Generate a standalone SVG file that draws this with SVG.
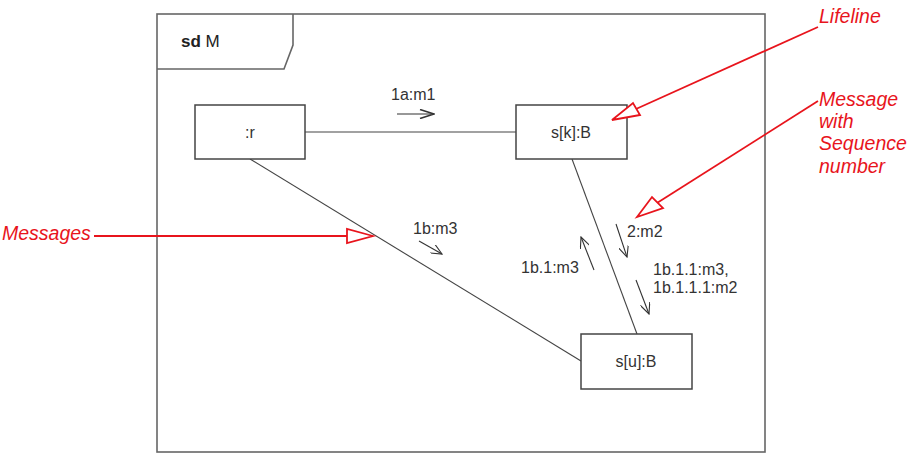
<svg xmlns="http://www.w3.org/2000/svg" width="918" height="461" viewBox="0 0 918 461">
<style>
  .frame{fill:none;stroke:#666;stroke-width:1.6}
  .node{fill:#fff;stroke:#444;stroke-width:1.5}
  .conn{fill:none;stroke:#444;stroke-width:1.1}
  .msg{fill:none;stroke:#333;stroke-width:1.1}
  .lbl{font-family:"Liberation Sans",Arial,sans-serif;font-size:16px;fill:#333}
  .note{font-family:"Liberation Sans",Arial,sans-serif;font-size:19.5px;font-style:italic;fill:#e8141c}
  .red{fill:none;stroke:#e8141c;stroke-width:1.8}
  .redtri{fill:#fff;stroke:#e8141c;stroke-width:1.8;stroke-linejoin:miter}
</style>
<defs>
  <marker id="open" viewBox="0 0 12 10" refX="11" refY="5" markerWidth="12" markerHeight="10" markerUnits="userSpaceOnUse" orient="auto">
    <path d="M0,0 L11,5 L0,10" fill="none" stroke="#333" stroke-width="1.1"/>
  </marker>
  <marker id="openb" viewBox="0 0 16 10" refX="15" refY="5" markerWidth="16" markerHeight="10" markerUnits="userSpaceOnUse" orient="auto">
    <path d="M1,0.5 L15,5 L1,9.5" fill="none" stroke="#333" stroke-width="1.6"/>
  </marker>
</defs>
<rect width="918" height="461" fill="#fff"/>

<g id="frame">
  <rect class="frame" x="157" y="14" width="608" height="438"/>
  <path class="frame" d="M157,69 L284,69 L293,45 L293,14"/>
  <text x="181" y="47" font-family="'Liberation Sans',Arial,sans-serif" font-size="17" fill="#222"><tspan font-weight="bold">sd</tspan> M</text>
</g>

<g id="connectors">
  <line class="conn" x1="305" y1="132" x2="516" y2="132"/>
  <line class="conn" x1="250" y1="159" x2="581" y2="361"/>
  <line class="conn" x1="572" y1="159" x2="637" y2="334"/>
  <line class="msg" x1="397" y1="114" x2="434" y2="114" stroke-width="1.6" marker-end="url(#openb)"/>
  <text class="lbl" x="391" y="100">1a:m1</text>
  <line class="msg" x1="419" y1="241" x2="442" y2="254" marker-end="url(#open)"/>
  <text class="lbl" x="413" y="234">1b:m3</text>
  <line class="msg" x1="616" y1="224" x2="627" y2="257" marker-end="url(#open)"/>
  <text class="lbl" x="627" y="237">2:m2</text>
  <line class="msg" x1="594" y1="270" x2="581" y2="237" marker-end="url(#open)"/>
  <text class="lbl" x="521" y="273">1b.1:m3</text>
  <line class="msg" x1="636" y1="280" x2="649" y2="314" marker-end="url(#open)"/>
  <text class="lbl" x="653" y="275">1b.1.1:m3,</text>
  <text class="lbl" x="653" y="293">1b.1.1.1:m2</text>
</g>

<g id="node-r">
  <rect class="node" x="195" y="105" width="110" height="54"/>
  <text class="lbl" x="250" y="138" text-anchor="middle">:r</text>
</g>
<g id="node-sk">
  <rect class="node" x="516" y="105" width="111" height="54"/>
  <text class="lbl" x="571" y="138" text-anchor="middle">s[k]:B</text>
</g>
<g id="node-su">
  <rect class="node" x="581" y="334" width="111" height="55"/>
  <text class="lbl" x="636" y="367" text-anchor="middle">s[u]:B</text>
</g>

<g id="annotations">
  <text class="note" x="819" y="23">Lifeline</text>
  <line class="red" x1="818" y1="27" x2="636" y2="109"/>
  <polygon class="redtri" points="612,120 633,103 640,115"/>

  <text class="note" x="819" y="106">Message</text>
  <text class="note" x="819" y="128">with</text>
  <text class="note" x="819" y="150">Sequence</text>
  <text class="note" x="819" y="173">number</text>
  <line class="red" x1="818" y1="101" x2="657" y2="203"/>
  <polygon class="redtri" points="637,217 652,197 663,208"/>

  <text class="note" x="2" y="240">Messages</text>
  <line class="red" x1="94" y1="236" x2="347" y2="236"/>
  <polygon class="redtri" points="373,236 347,229 347,243"/>
</g>
</svg>
